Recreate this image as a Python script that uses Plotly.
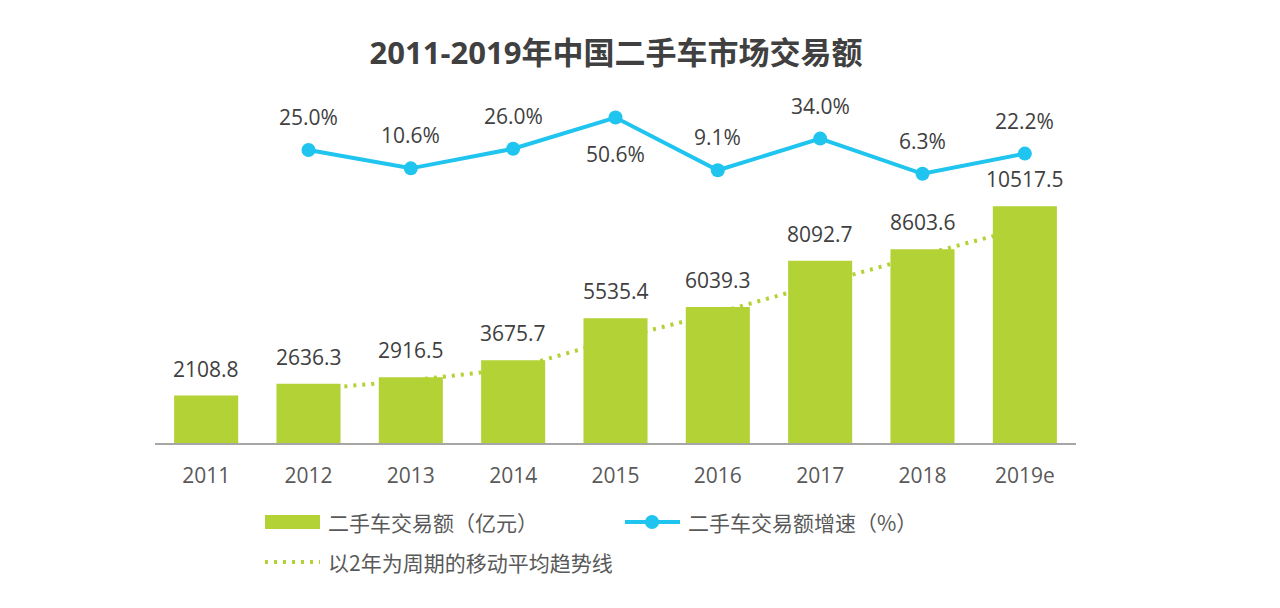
import plotly.graph_objects as go

years = ["2011", "2012", "2013", "2014", "2015", "2016", "2017", "2018", "2019e"]
volume = [2108.8, 2636.3, 2916.5, 3675.7, 5535.4, 6039.3, 8092.7, 8603.6, 10517.5]
growth_years = ["2012", "2013", "2014", "2015", "2016", "2017", "2018", "2019e"]
growth = [25.0, 10.6, 26.0, 50.6, 9.1, 34.0, 6.3, 22.2]
ma_years = ["2012", "2013", "2014", "2015", "2016", "2017", "2018", "2019e"]
moving_avg = [2372.6, 2776.4, 3296.1, 4605.6, 5787.4, 7066.0, 8348.2, 9560.6]

name_bar = "二手车交易额（亿元）"
name_line = "二手车交易额增速（%）"
name_ma = "以2年为周期的移动平均趋势线"
title = "2011-2019年中国二手车市场交易额"

GREEN = "#B2D235"
CYAN = "#1FC4EF"
FONT = "Open Sans, Noto Sans CJK SC, sans-serif"
CJK = "Noto Sans CJK SC, sans-serif"

# page body has an 8px margin; positions below are in figure pixels
OFF = 8

fig = go.Figure()
# moving-average trendline drawn on base axis (behind bars)
fig.add_trace(go.Scatter(x=ma_years, y=moving_avg, mode="lines", name=name_ma,
                         line=dict(color=GREEN, width=4, dash="3px,6px"),
                         yaxis="y", showlegend=False, hoverinfo="skip"))
fig.add_trace(go.Bar(x=years, y=volume, name=name_bar, marker=dict(color=GREEN, line=dict(width=0)),
                     yaxis="y2", showlegend=False))
fig.add_trace(go.Scatter(x=growth_years, y=growth, mode="lines+markers", name=name_line,
                         line=dict(color=CYAN, width=4), marker=dict(color=CYAN, size=14),
                         yaxis="y3", showlegend=False))

ann = []
for x, v in zip(years, volume):
    ann.append(dict(x=years.index(x), y=v, xref="x", yref="y2", text=f"{v:.1f}", showarrow=False,
                    yanchor="middle", yshift=27, font=dict(family=FONT, size=21, color="#404040")))
for x, v in zip(growth_years, growth):
    shift = -36 if x == "2015" else 33
    ann.append(dict(x=years.index(x), y=v, xref="x", yref="y3", text=f"{v:.1f}%", showarrow=False,
                    yanchor="middle", yshift=shift, font=dict(family=FONT, size=21, color="#404040")))

# manual legend
L, R_, T, B = 155 - OFF, 1076 - OFF, 100 - OFF, 443 - OFF
def px(xp):
    return (xp - OFF - L) / (R_ - L)
def py(yp):
    return (B - (yp - OFF)) / (B - T)

legend_font = dict(family=CJK, size=21, color="#595959")
ann += [
    dict(x=px(326), y=py(522), xref="paper", yref="paper", text=name_bar, showarrow=False,
         xanchor="left", yanchor="middle", font=legend_font),
    dict(x=px(686), y=py(522), xref="paper", yref="paper", text=name_line, showarrow=False,
         xanchor="left", yanchor="middle", font=legend_font),
    dict(x=px(326), y=py(562), xref="paper", yref="paper", text=name_ma, showarrow=False,
         xanchor="left", yanchor="middle", font=legend_font),
]
shapes = [
    dict(type="rect", xref="paper", yref="paper", x0=px(265), x1=px(320), y0=py(515), y1=py(529),
         fillcolor=GREEN, line=dict(width=0)),
    dict(type="line", xref="paper", yref="paper", x0=px(625), x1=px(680), y0=py(522), y1=py(522),
         line=dict(color=CYAN, width=4)),
    dict(type="circle", xref="paper", yref="paper", xsizemode="pixel", ysizemode="pixel",
         xanchor=px(652), yanchor=py(522), x0=-7, x1=7, y0=-7, y1=7,
         fillcolor=CYAN, line=dict(width=0)),
    dict(type="line", xref="paper", yref="paper", x0=px(265), x1=px(320), y0=py(562), y1=py(562),
         line=dict(color=GREEN, width=4, dash="3px,6px")),
]

ymax = (B - T) / 0.02252
g0 = 181.8 - OFF
gscale = 1.27
fig.update_layout(
    width=1280, height=608,
    paper_bgcolor="white", plot_bgcolor="white",
    margin=dict(l=L, r=1280 - R_, t=T, b=608 - B),
    title=dict(text=title, x=(616 - OFF) / 1280, xanchor="center", y=1 - (53 - OFF) / 608,
               yanchor="middle", yref="container",
               font=dict(family=FONT, size=31, color="#404040", weight="bold")),
    showlegend=False,
    bargap=0.374,
    xaxis=dict(type="category", categoryorder="array", categoryarray=years,
               range=[-0.5, len(years) - 0.5],
               showline=True, linecolor="#A6A6A6", linewidth=2, ticks="",
               tickfont=dict(family=FONT, size=21, color="#595959"), ticklabelstandoff=13,
               showgrid=False, zeroline=False),
    yaxis=dict(range=[0, ymax], visible=False, showgrid=False, zeroline=False),
    yaxis2=dict(range=[0, ymax], overlaying="y", visible=False, showgrid=False, zeroline=False),
    yaxis3=dict(range=[(g0 - B) / gscale, (g0 - T) / gscale], overlaying="y", visible=False,
                showgrid=False, zeroline=False),
    annotations=ann,
    shapes=shapes,
)

fig.write_html("out.html")
